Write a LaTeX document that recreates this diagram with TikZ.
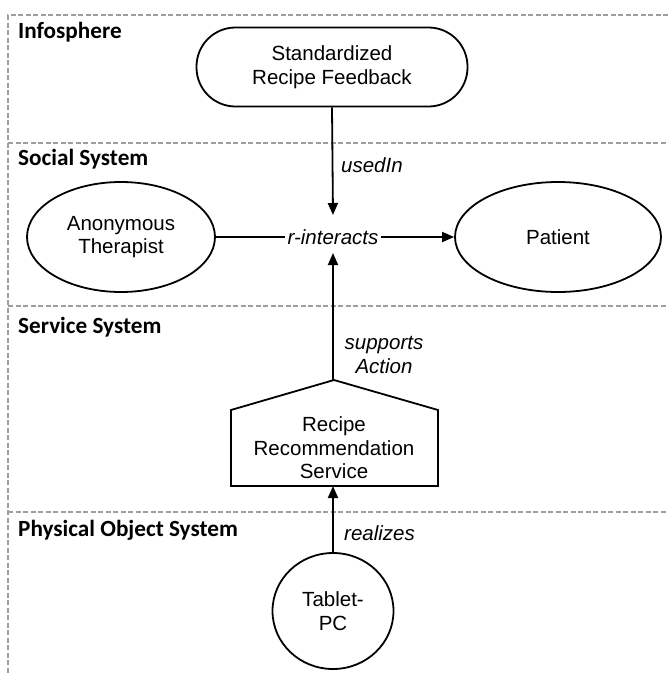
\documentclass[tikz,border=0pt]{standalone}
\usepackage{fontspec}
\setmainfont{Liberation Sans}
\newfontfamily\lanefont{Carlito}
\usetikzlibrary{arrows.meta,shapes.geometric}

\begin{document}
\begin{tikzpicture}[x=1pt,y=-1pt,
  lane/.style={draw=black!38, line width=1.3pt, dash pattern=on 5pt off 2.5pt},
  lanelabel/.style={anchor=base west, inner sep=0pt, font=\lanefont\bfseries\fontsize{23.2}{26}\selectfont},
  body/.style={font=\fontsize{20.5}{23.5}\selectfont, align=center},
  thing/.style={body, draw, line width=1.8pt, ellipse, inner sep=0pt},
  rel/.style={font=\itshape\fontsize{20.5}{23.5}\selectfont, align=center, inner sep=0pt},
  link/.style={line width=1.8pt, line join=miter},
  flow/.style={link, -{Triangle[length=12pt,width=10pt]}},
]
\useasboundingbox (0,0) rectangle (668,675);

% swimlane borders
\draw[lane] (668,15) -- (8,15) -- (8,675);
\draw[lane] (8,143) -- (668,143);
\draw[lane] (8,306) -- (668,306);
\draw[lane] (8,512) -- (668,512);

% lane titles
\node[lanelabel] (l1) at (18,38) {Infosphere};
\node[lanelabel] (l2) at (18,165) {Social System};
\node[lanelabel] (l3) at (18,333) {Service System};
\node[lanelabel] (l4) at (18,536) {Physical Object System};

% elements
\node[body, draw, line width=1.8pt, rounded corners=39pt,
      minimum width=271pt, minimum height=79pt] (feedback) at (332,67)
      {Standardized\\Recipe Feedback};
\node[thing, minimum width=188pt, minimum height=110pt] (therapist) at (121,237)
      {Anonymous\\Therapist};
\node[thing, minimum width=206pt, minimum height=110pt] (patient) at (558,237)
      {Patient};
\node[body, inner sep=0pt] (svc) at (334,448)
      {Recipe\\Recommendation\\Service};
\draw[link] (231,486) -- (231,410) -- (334,380) -- (438,410) -- (438,486) -- cycle;
\coordinate (svcApex) at (333,380);
\coordinate (svcBase) at (333,486);
\node[thing, minimum width=121pt, minimum height=116pt] (tablet) at (333,611)
      {Tablet-\\PC};

% relation
\node[rel, inner xsep=2.5pt] (ri) at (333,237) {r-interacts};
\coordinate (riTop) at (333,215);
\coordinate (riBot) at (333,253);

\draw[link] (therapist.east) -- (ri.west);
\draw[flow] (ri.east) -- (patient.west);
\draw[flow] (feedback.south) -- (riTop);
\draw[flow] (svcApex) -- (riBot);
\draw[flow] (tablet.north) -- (svcBase);

% connector labels
\node[rel, anchor=west] (usedin) at (341,165) {usedIn};
\node[rel] (supports) at (384,355) {supports\\Action};
\node[rel, anchor=west] (realizes) at (344,533) {realizes};
\end{tikzpicture}
\end{document}
